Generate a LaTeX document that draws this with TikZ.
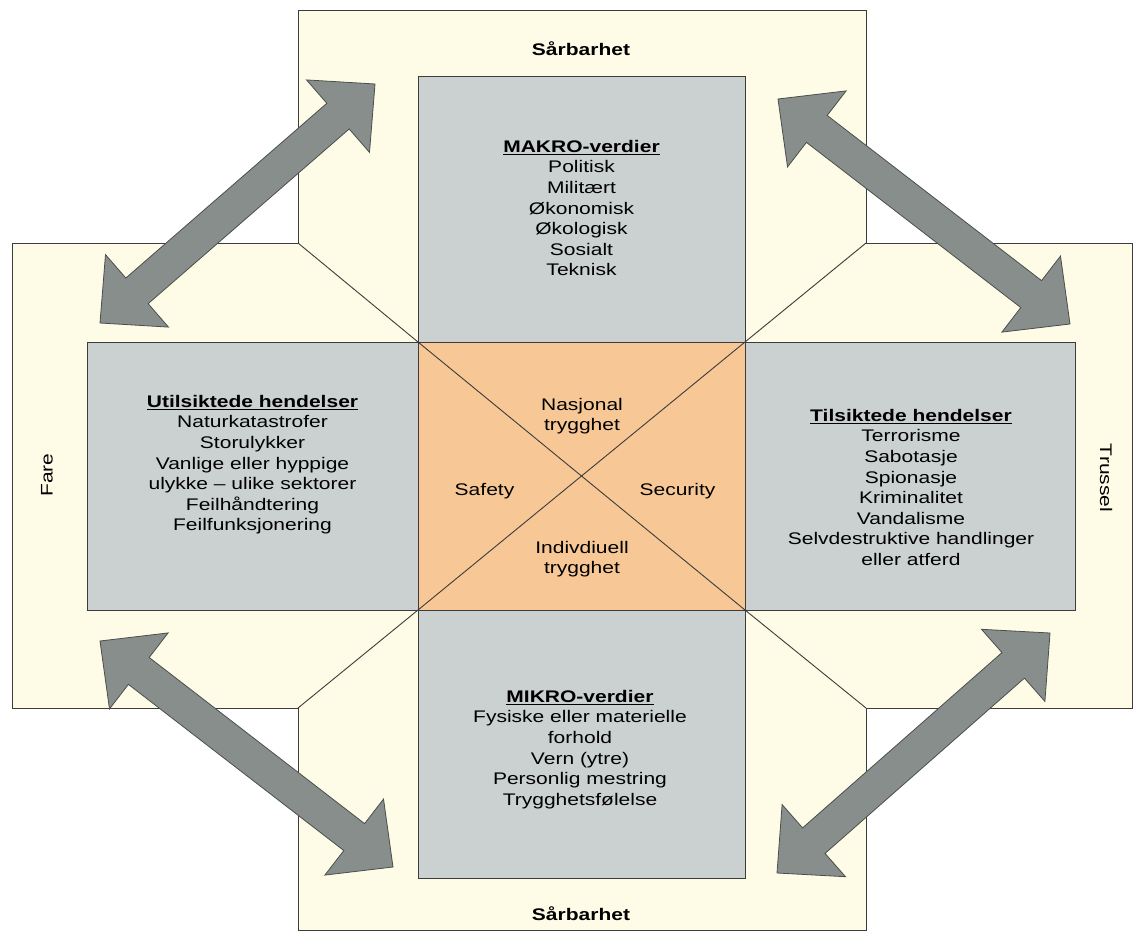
\documentclass[tikz,border=0pt]{standalone}
\usepackage{fontspec}
\setmainfont{Liberation Sans}[FakeStretch=1.25]
\usetikzlibrary{calc}

\definecolor{cream}{HTML}{FEFCE6}
\definecolor{boxgray}{HTML}{CBD0D0}
\definecolor{coreorange}{HTML}{F7C896}
\definecolor{edge}{HTML}{3C3C3C}
\definecolor{arrowgray}{HTML}{878E8C}
\definecolor{arrowedge}{HTML}{4A4F4D}

% thick double-headed block arrow between two named tips
\newcommand\bigdoublearrow[2]{%
  \coordinate (#1-h) at ($(#1)!49pt!(#2)$);
  \coordinate (#2-h) at ($(#2)!49pt!(#1)$);
  \filldraw[blockarrow] (#1)
    -- ($(#1-h)!48pt!90:(#2)$) -- ($(#1-h)!17pt!90:(#2)$)
    -- ($(#2-h)!17pt!-90:(#1)$) -- ($(#2-h)!48pt!-90:(#1)$)
    -- (#2)
    -- ($(#2-h)!48pt!90:(#1)$) -- ($(#2-h)!17pt!90:(#1)$)
    -- ($(#1-h)!17pt!-90:(#2)$) -- ($(#1-h)!48pt!-90:(#2)$)
    -- cycle;}

\begin{document}
\begin{tikzpicture}[x=1pt,y=-1pt,
  outline/.style={draw=edge, line width=0.9pt},
  crossband/.style={outline, fill=cream},
  graybox/.style={outline, fill=boxgray, inner sep=0pt, outer sep=0pt},
  corebox/.style={outline, fill=coreorange, inner sep=0pt, outer sep=0pt},
  blockarrow/.style={fill=arrowgray, draw=arrowedge, line width=0.8pt, line join=miter},
  txt/.style={font=\fontsize{16.8}{20.6}\selectfont, align=center, inner sep=0pt, text=black},
  bold/.style={txt, font=\fontsize{16.8}{20.6}\selectfont\bfseries},
]
\useasboundingbox (0,0) rectangle (1138,940);

% cream cross behind everything
\coordinate (inNW) at (298,243);
\coordinate (inNE) at (866,243);
\coordinate (inSE) at (866,708);
\coordinate (inSW) at (298,708);
\filldraw[crossband] (298,10) -- (866,10) -- (inNE) -- (1132,243) -- (1132,708)
  -- (inSE) -- (866,930) -- (298,930) -- (inSW) -- (12,708) -- (12,243)
  -- (inNW) -- cycle;

% value and event boxes
\node[graybox, minimum width=327pt, minimum height=266pt] (makro) at (581.5,209) {};
\node[graybox, minimum width=331pt, minimum height=268pt] (utils) at (252.5,476) {};
\node[graybox, minimum width=330pt, minimum height=268pt] (tils) at (910,476) {};
\node[graybox, minimum width=327pt, minimum height=268pt] (mikro) at (581.5,744) {};

% central box with its crossing diagonals
\node[corebox, minimum width=327pt, minimum height=268pt] (core) at (581.5,476) {};
\draw[outline] (core.north west) -- (core.south east);
\draw[outline] (core.north east) -- (core.south west);

% cross corners joined to the central box
\draw[outline] (inNW) -- (core.north west);
\draw[outline] (inNE) -- (core.north east);
\draw[outline] (inSE) -- (core.south east);
\draw[outline] (inSW) -- (core.south west);

% texts
\node[bold, anchor=base] (sarbtop) at (581,55) {Sårbarhet};
\node[bold, anchor=base] (sarbbot) at (581,920) {Sårbarhet};
\node[txt, rotate=90] (fare) at (47,475) {Fare};
\node[txt, rotate=-90] (trussel) at (1106,478) {Trussel};

\node[txt, anchor=north] (makrotxt) at (581.5,140)
  {\underline{\textbf{MAKRO-verdier}}\\Politisk\\Militært\\Økonomisk\\Økologisk\\Sosialt\\Teknisk};
\node[txt, anchor=north] (utilstxt) at (252.5,395)
  {\underline{\textbf{Utilsiktede hendelser}}\\Naturkatastrofer\\Storulykker\\Vanlige eller hyppige\\ulykke – ulike sektorer\\Feilhåndtering\\Feilfunksjonering};
\node[txt, anchor=north] (tilstxt) at (911,409)
  {\underline{\textbf{Tilsiktede hendelser}}\\Terrorisme\\Sabotasje\\Spionasje\\Kriminalitet\\Vandalisme\\Selvdestruktive handlinger\\eller atferd};
\node[txt, anchor=north] (mikrotxt) at (580,690)
  {\underline{\textbf{MIKRO-verdier}}\\Fysiske eller materielle\\forhold\\Vern (ytre)\\Personlig mestring\\Trygghetsfølelse};

\node[txt, anchor=north] (nasjonal) at (582,398) {Nasjonal\\trygghet};
\node[txt, anchor=north] (individ) at (582,541) {Indivdiuell\\trygghet};
\node[txt, anchor=base] (safety) at (484.5,495) {Safety};
\node[txt, anchor=base] (security) at (677.5,495) {Security};

% block arrows in the four corners
\coordinate (a1s) at (100,323);  \coordinate (a1e) at (375,84);
\coordinate (a2s) at (778,99);   \coordinate (a2e) at (1070,324);
\coordinate (a3s) at (100,641);  \coordinate (a3e) at (393,867);
\coordinate (a4s) at (1050,633); \coordinate (a4e) at (777,873);
\bigdoublearrow{a1s}{a1e}
\bigdoublearrow{a2s}{a2e}
\bigdoublearrow{a3s}{a3e}
\bigdoublearrow{a4s}{a4e}
\end{tikzpicture}
\end{document}
